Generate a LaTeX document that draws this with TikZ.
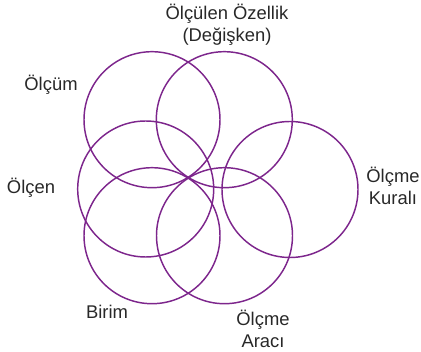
\documentclass[tikz,border=0pt]{standalone}
\usepackage{fontspec}
\setmainfont{Liberation Sans}
\usepackage{tikz}
\usepackage{xcolor}
\definecolor{ringpurple}{RGB}{125, 38, 140}
\definecolor{labelgray}{RGB}{40, 40, 40}

\begin{document}
\begin{tikzpicture}[x=0.75pt, y=-0.75pt,
    ring/.style={draw=ringpurple, line width=1.1pt, circle, minimum size=102pt, inner sep=0pt},
    lbl/.style={font=\fontsize{13.8}{16.5}\selectfont, text=labelgray, align=center}]
    \useasboundingbox (0, 0) rectangle (421, 352);
    % circles
    \node[ring] (olcum)   at (152, 119.7) {};
    \node[ring] (ozellik) at (224.3, 119.7) {};
    \node[ring] (kurali)  at (290, 189.5) {};
    \node[ring] (olcen)   at (145.7, 189) {};
    \node[ring] (birim)   at (152, 235.7) {};
    \node[ring] (araci)   at (224.5, 235.7) {};
    % labels
    \node[lbl] (tozellik) at (227, 25)  {Ölçülen Özellik\\(Değişken)};
    \node[lbl] (tolcum)   at (51, 85)   {Ölçüm};
    \node[lbl] (tolcen)   at (31, 188)  {Ölçen};
    \node[lbl] (tkurali)  at (393, 186) {Ölçme\\Kuralı};
    \node[lbl] (tbirim)   at (107, 312) {Birim};
    \node[lbl] (taraci)   at (263, 329) {Ölçme\\Aracı};
\end{tikzpicture}
\end{document}
